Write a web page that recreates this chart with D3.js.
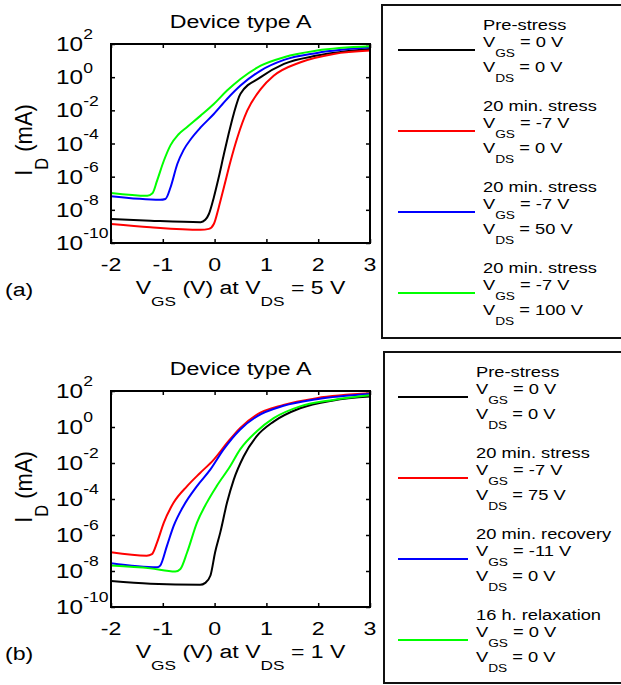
<!DOCTYPE html>
<html>
<head>
<meta charset="utf-8">
<script src="https://cdn.jsdelivr.net/npm/d3@7"></script>
<style>
  body { margin: 0; background: #fff; }
  text { font-family: "Liberation Sans", Arial, sans-serif; fill: #000; }
</style>
</head>
<body>
<svg id="fig" width="621" height="685"></svg>
<script>
// ---- data: [VGS (V), ID (mA)] ----
const vgsTicks = [-2, -1, 0, 1, 2, 3];
const idTickExp = [-10, -8, -6, -4, -2, 0, 2];

// (a) VDS = 5 V
const aPre = [[-2, 2.8e-9], [-1.24, 2.2e-9], [-0.27, 1.8e-9], [-0.18, 2.5e-9], [-0.11, 5.6e-9], [-0.015, 5.6e-8],
  [0.08, 9.1e-7], [0.18, 2.3e-5], [0.27, 3.7e-4], [0.37, 6.3e-3], [0.5, 0.1], [0.89, 1], [1.34, 6.3], [1.98, 20], [3, 50]];
const aStress0 = [[-2, 1.4e-9], [-1.24, 8.9e-10], [-0.27, 6.3e-10], [-0.11, 7.1e-10], [-0.015, 1.4e-9], [0.08, 1.4e-8],
  [0.18, 2.3e-7], [0.31, 9.1e-6], [0.44, 2.3e-4], [0.63, 9.5e-3], [0.89, 0.19], [1.14, 1.2], [1.66, 7.9], [2.3, 25], [3, 40]];
const aStress50 = [[-2, 6.5e-8], [-1.05, 4e-8], [-0.95, 4.5e-8], [-0.85, 2.3e-7], [-0.72, 5.8e-6], [-0.6, 4e-5], [-0.45, 2e-4],
  [-0.27, 9.3e-4], [-0.015, 6e-3], [0.24, 0.048], [0.5, 0.31], [0.89, 2.5], [1.34, 11], [1.98, 29], [3, 63]];
const aStress100 = [[-2, 1.05e-7], [-1.3, 7.1e-8], [-1.2, 1e-7], [-1.11, 5.8e-7], [-0.98, 9.1e-6], [-0.85, 8e-5], [-0.7, 3.5e-4],
  [-0.53, 1e-3], [-0.27, 4.8e-3], [-0.015, 0.024], [0.24, 0.155], [0.5, 0.78], [0.89, 4.9], [1.34, 16], [1.98, 40], [3, 72]];

// (b) VDS = 1 V
const bPre = [[-2, 2.75e-9], [-1.24, 1.95e-9], [-0.28, 1.7e-9], [-0.18, 2.2e-9], [-0.08, 5.6e-9], [0.01, 1.1e-7],
  [0.11, 1.4e-6], [0.24, 6.3e-5], [0.37, 1.2e-3], [0.56, 0.023], [0.81, 0.3], [1.14, 2], [1.65, 11], [2.29, 30], [3, 49]];
const bStress75 = [[-2, 1.1e-7], [-1.31, 7.1e-8], [-1.21, 8.7e-8], [-1.11, 3.9e-7], [-0.98, 4.9e-6], [-0.79, 6.3e-5],
  [-0.53, 5.2e-4], [-0.28, 2.8e-3], [-0.02, 0.015], [0.24, 0.13], [0.49, 0.87], [0.81, 4.8], [1.33, 17], [1.97, 40], [3, 74]];
const bRecovery = [[-2, 2.7e-8], [-1.11, 1.6e-8], [-1.05, 2e-8], [-0.92, 2.5e-7], [-0.79, 3.2e-6], [-0.6, 4.1e-5],
  [-0.34, 5.2e-4], [-0.08, 4.4e-3], [0.17, 0.055], [0.49, 0.71], [0.81, 3.8], [1.33, 15], [1.97, 35], [3, 68]];
const bRelax = [[-2, 2e-8], [-1.24, 1.4e-8], [-0.76, 9.3e-9], [-0.66, 1.3e-8], [-0.53, 1.1e-7], [-0.34, 4.9e-6],
  [-0.15, 6.3e-5], [0.04, 5.2e-4], [0.3, 6.6e-3], [0.49, 0.055], [0.81, 0.56], [1.14, 3.1], [1.65, 14], [2.29, 32], [3, 58]];

const colors = ['#000000', '#ff0000', '#0000ff', '#00ff00'];

const aLegend = [
  ['Pre-stress', '= 0 V', '= 0 V'],
  ['20 min. stress', '= -7 V', '= 0 V'],
  ['20 min. stress', '= -7 V', '= 50 V'],
  ['20 min. stress', '= -7 V', '= 100 V']
];
const bLegend = [
  ['Pre-stress', '= 0 V', '= 0 V'],
  ['20 min. stress', '= -7 V', '= 75 V'],
  ['20 min. recovery', '= -11 V', '= 0 V'],
  ['16 h. relaxation', '= 0 V', '= 0 V']
];

const SX = 1.22; // text in the figure is stretched horizontally

const svg = d3.select('#fig');

// text with sub/superscript parts, stretched around its anchor
function richText(parent, x, y, parts, size, anchor, transform) {
  const g = parent.append('g')
    .attr('transform', transform || `translate(${x},${y}) scale(${SX},1)`);
  const t = g.append('text')
    .attr('text-anchor', anchor)
    .attr('font-size', size);
  let shift = 0;
  for (const [str, kind] of parts) {
    let target = 0, fs = size;
    if (kind === 'sub') { target = size * 0.68; fs = size * 0.75; }
    if (kind === 'sup') { target = -size * 0.58; fs = size * 0.72; }
    t.append('tspan')
      .attr('dy', target - shift)
      .attr('font-size', fs)
      .text(str);
    shift = target;
  }
  return t;
}

function panel(cfg) {
  const { top, bottom, left, right } = cfg;

  const x = d3.scaleLinear().domain([-2, 3]).range([left, right]);
  const y = d3.scaleLog().domain([1e-10, 1e2]).range([bottom, top]);

  const g = svg.append('g');

  // curves
  const clipId = 'clip' + cfg.id;
  g.append('clipPath').attr('id', clipId)
    .append('rect')
    .attr('x', left).attr('y', top)
    .attr('width', right - left).attr('height', bottom - top);

  const line = d3.line()
    .x(d => x(d[0]))
    .y(d => y(d[1]))
    .curve(d3.curveMonotoneX);

  g.append('g')
    .attr('clip-path', `url(#${clipId})`)
    .selectAll('path')
    .data(cfg.series)
    .enter()
    .append('path')
    .attr('d', line)
    .attr('fill', 'none')
    .attr('stroke', (d, i) => colors[i])
    .attr('stroke-width', 2);

  // inward ticks on all sides
  const noDomain = a => a.select('.domain').remove();
  g.append('g').attr('transform', `translate(0,${bottom})`)
    .call(d3.axisBottom(x).tickValues(vgsTicks).tickSizeInner(-4).tickSizeOuter(0).tickFormat(''))
    .call(noDomain);
  g.append('g').attr('transform', `translate(0,${top})`)
    .call(d3.axisTop(x).tickValues(vgsTicks).tickSizeInner(-4).tickSizeOuter(0).tickFormat(''))
    .call(noDomain);
  const yTicks = idTickExp.map(e => Math.pow(10, e));
  g.append('g').attr('transform', `translate(${left},0)`)
    .call(d3.axisLeft(y).tickValues(yTicks).tickSizeInner(-4).tickSizeOuter(0).tickFormat(''))
    .call(noDomain);
  g.append('g').attr('transform', `translate(${right},0)`)
    .call(d3.axisRight(y).tickValues(yTicks).tickSizeInner(-4).tickSizeOuter(0).tickFormat(''))
    .call(noDomain);
  g.selectAll('.tick line').attr('stroke', '#000').attr('stroke-width', 1.5);

  // box
  g.append('rect')
    .attr('x', left).attr('y', top)
    .attr('width', right - left).attr('height', bottom - top)
    .attr('fill', 'none')
    .attr('stroke', '#000')
    .attr('stroke-width', 2);

  // x tick labels
  vgsTicks.forEach(v => {
    richText(g, x(v), bottom + 28, [[String(v), 'n']], 19, 'middle');
  });

  // y tick labels
  idTickExp.forEach(e => {
    richText(g, 56, y(Math.pow(10, e)) + 7, [['10', 'n'], [String(e), 'sup']], 20, 'start');
  });

  // title
  richText(g, (left + right) / 2, top - 16, [['Device type A', 'n']], 19, 'middle');

  // x label
  richText(g, 0, 0,
    [['V', 'n'], ['GS', 'sub'], [' (V) at V', 'n'], ['DS', 'sub'], [` = ${cfg.vds} V`, 'n']], 18, 'middle',
    `translate(${(left + right) / 2},${bottom + 51}) scale(1.28,1)`);

  // panel letter
  richText(g, 5, bottom + 53, [[cfg.letter, 'n']], 19, 'start');

  // y label
  richText(g, 0, 0, [['I', 'n'], ['D', 'sub'], [' (mA)', 'n']], 22, 'middle',
    `translate(32,${cfg.ylabelY}) rotate(-90) scale(1,1.08)`);

  // legend
  const L = cfg.legend;
  g.append('rect')
    .attr('x', L.x).attr('y', L.y)
    .attr('width', 660 - L.x).attr('height', L.h)
    .attr('fill', 'none')
    .attr('stroke', '#111')
    .attr('stroke-width', 2);

  cfg.labels.forEach((lab, i) => {
    const ly = L.first + i * L.step;
    g.append('line')
      .attr('x1', 398).attr('x2', L.lineEnd)
      .attr('y1', ly).attr('y2', ly)
      .attr('stroke', colors[i])
      .attr('stroke-width', 2);
    richText(g, L.textX, ly - 20, [[lab[0], 'n']], 15, 'start');
    richText(g, L.textX, ly - 3, [['V', 'n'], ['GS', 'sub'], [' ' + lab[1], 'n']], 15, 'start');
    richText(g, L.textX, ly + 22, [['V', 'n'], ['DS', 'sub'], [' ' + lab[2], 'n']], 15, 'start');
  });
}

panel({
  id: 'a', letter: '(a)', vds: 5,
  top: 44, bottom: 243, left: 111, right: 370, ylabelY: 140,
  series: [aPre, aStress0, aStress50, aStress100],
  labels: aLegend,
  legend: { x: 382, y: 5, h: 333, first: 50, step: 81, lineEnd: 475, textX: 483 }
});

panel({
  id: 'b', letter: '(b)', vds: 1,
  top: 391, bottom: 607, left: 111, right: 370, ylabelY: 487,
  series: [bPre, bStress75, bRecovery, bRelax],
  labels: bLegend,
  legend: { x: 384, y: 352, h: 331, first: 397, step: 81, lineEnd: 468, textX: 476 }
});
</script>
</body>
</html>
